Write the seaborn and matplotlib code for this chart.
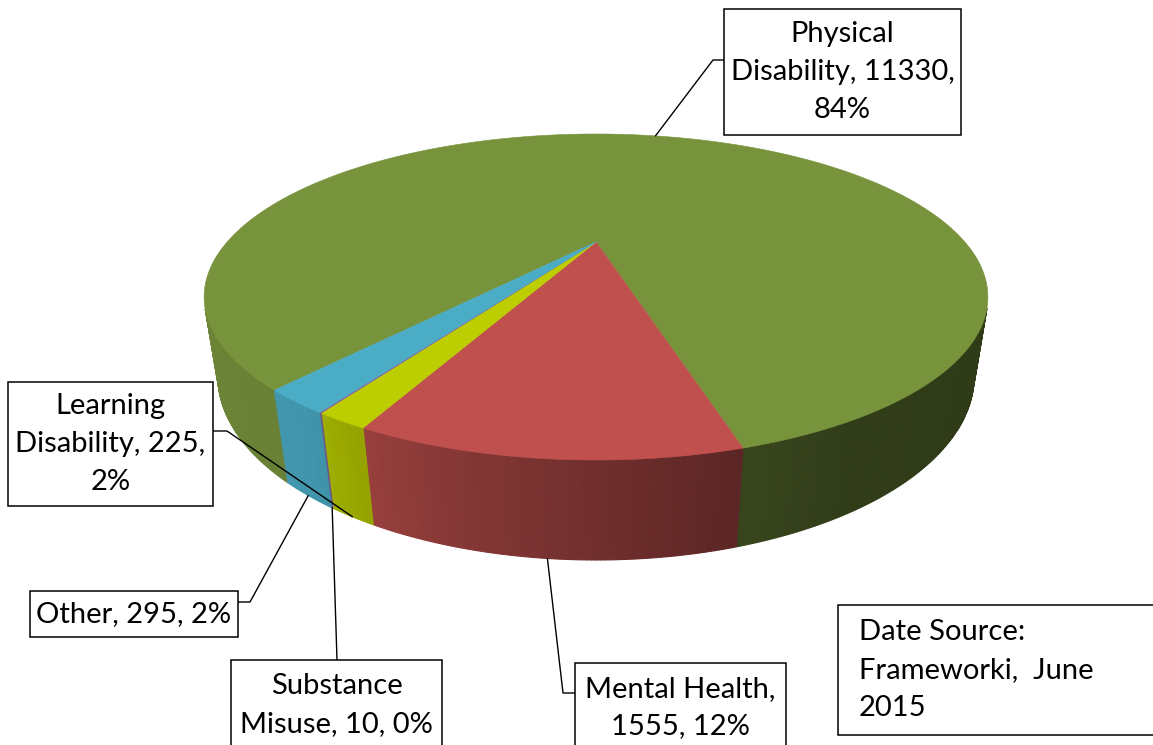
import textwrap
import numpy as np
import matplotlib
matplotlib.use("Agg")
import matplotlib.pyplot as plt
from matplotlib.patches import Polygon, Rectangle
from matplotlib.colors import to_rgb
import seaborn as sns

# Data (Frameworki, June 2015)
categories = ["Physical Disability", "Mental Health", "Learning Disability",
              "Substance Misuse", "Other"]
counts = [11330, 1555, 225, 10, 295]
slice_colors = ["#77933C", "#C0504D", "#BCCD00", "#8064A2", "#4BACC6"]
source_note = "Date Source:\nFrameworki,  June\n2015"

# Label layout in pixels: box (left, top, right, bottom), wrap width, leader stub
label_boxes = [(724, 9, 961, 135), (575, 663, 786, 752), (8, 382, 213, 506),
               (231, 660, 442, 750), (30, 591, 238, 637)]
wrap_widths = [18, 16, 17, 15, 20]
leader_stubs = [[(724, 60), (713, 60)], [(575, 693), (563, 693)],
                [(213, 431), (227, 431)], [(337, 660)], [(238, 602), (250, 602)]]

# 3D pie view (pixels / pie radius units)
apex_x, apex_y = 596, 242
focal = 1006.0
cam_dist = 2.727
elev = np.radians(23.05)
thickness = 0.2255
start_angle = np.radians(229.65)

# wall shading vs angle (light from the left)
shade_angles = [200, 235, 248, 265, 286, 300, 340]
shade_levels = [0.90, 0.87, 0.75, 0.62, 0.47, 0.41, 0.40]

sns.set_style("white")
plt.rcParams["font.family"] = ["Lato", "DejaVu Sans"]

sin_e, cos_e = np.sin(elev), np.cos(elev)
wall_limit = -1.0 / (cam_dist * cos_e)  # wall faces camera where sin(theta) < this


def project(theta, z):
    x3 = np.cos(theta)
    y3 = np.sin(theta)
    up = y3 * sin_e + z * cos_e
    depth = cam_dist + y3 * cos_e - z * sin_e
    return apex_x + focal * x3 / depth, apex_y - focal * up / depth


def shade(color, theta):
    deg = np.degrees(theta) % 360
    k = np.interp(deg, shade_angles, shade_levels)
    return tuple(np.array(to_rgb(color)) * k)


total = sum(counts)
edges = start_angle - 2 * np.pi * np.concatenate([[0], np.cumsum(counts)]) / total

fig = plt.figure(figsize=(11.53, 7.45), dpi=100)
ax = fig.add_axes([0, 0, 1, 1])
ax.set_xlim(0, 1153)
ax.set_ylim(745, 0)
ax.axis("off")

# side walls
for i, color in enumerate(slice_colors):
    a, b = edges[i], edges[i + 1]
    n = max(int(abs(a - b) / np.radians(0.5)), 1)
    ts = np.linspace(a, b, n + 1)
    for t0, t1 in zip(ts[:-1], ts[1:]):
        tm = 0.5 * (t0 + t1)
        if np.sin(tm) >= wall_limit:
            continue
        x0t, y0t = project(t0, 0)
        x1t, y1t = project(t1, 0)
        x0b, y0b = project(t0, -thickness)
        x1b, y1b = project(t1, -thickness)
        c = shade(color, tm)
        ax.add_patch(Polygon([(x0t, y0t), (x1t, y1t), (x1b, y1b), (x0b, y0b)],
                             closed=True, facecolor=c, edgecolor=c, lw=0.8))

# top face
for i, color in enumerate(slice_colors):
    a, b = edges[i], edges[i + 1]
    n = max(int(abs(a - b) / np.radians(0.5)), 2)
    ts = np.linspace(a, b, n + 1)
    xs, ys = project(ts, 0)
    pts = [(apex_x, apex_y)] + list(zip(xs, ys))
    ax.add_patch(Polygon(pts, closed=True, facecolor=color, edgecolor=color, lw=0.4))

# data labels with leader lines
for i, cat in enumerate(categories):
    pct = round(100 * counts[i] / total)
    text = textwrap.fill(f"{cat}, {counts[i]}, {pct}%", wrap_widths[i])
    x0, y0, x1, y1 = label_boxes[i]
    ax.add_patch(Rectangle((x0, y0), x1 - x0, y1 - y0, facecolor="white",
                           edgecolor="black", lw=1.1, zorder=3))
    ax.text((x0 + x1) / 2, (y0 + y1) / 2, text, ha="center", va="center",
            fontsize=21, linespacing=1.56, color="black", zorder=4)
    mid = 0.5 * (edges[i] + edges[i + 1])
    z = -thickness if np.sin(mid) < wall_limit else 0
    ex, ey = project(mid, z)
    pts = leader_stubs[i] + [(ex, ey)]
    ax.plot([p[0] for p in pts], [p[1] for p in pts], color="black", lw=1.0, zorder=2)

# source note
ax.add_patch(Rectangle((838, 605), 330, 130, facecolor="white", edgecolor="black",
                       lw=1.1, zorder=3))
ax.text(859, 670, source_note, ha="left", va="center", fontsize=21,
        linespacing=1.56, color="black", zorder=4)

fig.savefig("out.png", dpi=100)
